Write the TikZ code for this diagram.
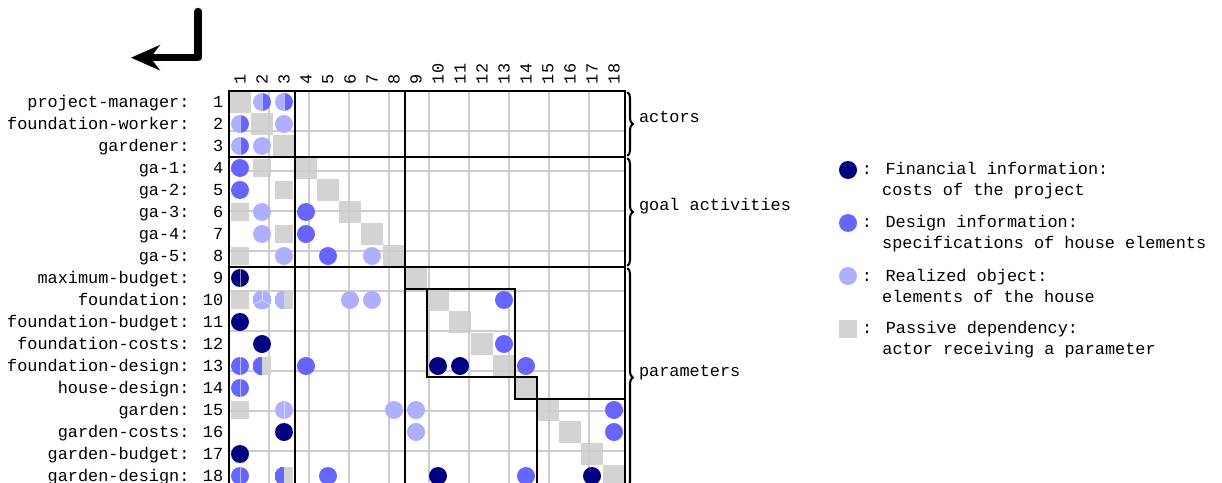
\documentclass[tikz,border=0pt]{standalone}
\usepackage{fontspec}
\setmainfont{Liberation Mono}
\usepackage{tikz}
\usetikzlibrary{positioning, arrows.meta, decorations.pathreplacing}

\definecolor{finblue}{HTML}{000080}
\definecolor{desblue}{HTML}{6666FF}
\definecolor{objblue}{HTML}{AFAFFF}
\definecolor{pasgray}{HTML}{D3D3D3}
\definecolor{gridgray}{HTML}{CDCDCD}

% split dot: left colour, right colour
\newcommand{\splitdot}[3]{%
  \fill[fill=#2] (#1) ++(0,2.25mm) arc[start angle=90, end angle=270, radius=2.25mm] -- cycle;
  \fill[fill=#3] (#1) ++(0,-2.25mm) arc[start angle=-90, end angle=90, radius=2.25mm] -- cycle;
  \draw[seam] (#1) ++(0,2.25mm) -- ++(0,-4.5mm);}
% half dot, half passive square
\newcommand{\halfpas}[2]{%
  \fill[fill=#2] (#1) ++(0,2.25mm) arc[start angle=90, end angle=270, radius=2.25mm] -- cycle;
  \fill[pasgray] (#1) ++(0,-2.3mm) rectangle ++(2.3mm,4.6mm);}

\begin{document}
\begin{tikzpicture}[
  x=0.55cm, y=0.55cm,
  font=\fontsize{12pt}{15pt}\selectfont,
  >=Stealth
]
\tikzstyle{gridline}=[gridgray, line width=1pt]
\tikzstyle{block}=[black, line width=1.2pt]
\tikzstyle{seam}=[white, line width=0.4pt, opacity=0.55]
\tikzstyle{dot}=[circle, minimum size=4.5mm, inner sep=0pt]
\tikzstyle{key}=[rectangle, minimum size=4.6mm, inner sep=0pt, fill=pasgray]
\tikzstyle{keytext}=[align=left, inner sep=0pt]
\tikzstyle{rowlabel}=[anchor=base east, inner sep=0pt]
\tikzstyle{collabel}=[rotate=90, anchor=west, inner sep=0pt]
\tikzstyle{brace}=[decorate, decoration={brace, amplitude=1.4mm}, line width=1.5pt]
\tikzstyle{bracelabel}=[midway, anchor=base west, xshift=2.7mm, yshift=0.3mm, inner sep=0pt]

\useasboundingbox (-10.409,4.136) rectangle (45.136,-17.818);

% ================= CELL CENTRES =================
\foreach \r in {1,...,18}
  \foreach \c in {1,...,18}
    \coordinate (M\r-\c) at (\c-0.5,-\r+0.5);

% ================= DIAGONAL =================
\foreach \i in {1,...,18}
  \fill[pasgray] (\i-1,-\i+1) rectangle (\i,-\i);

% ===== Passive dependencies =====
\foreach \r/\c in {4/2, 5/3, 6/1, 7/3, 8/1, 10/1, 15/1}
  \fill[pasgray] (M\r-\c) ++(-2.3mm,-2.3mm) rectangle ++(4.6mm,4.6mm);

% ================= GRID =================
\draw[gridline] (0,0) grid (18,-18);

% ===== Design information =====
\foreach \r/\c in {4/1, 5/1, 6/4, 7/4, 8/5, 10/13, 12/13, 13/4, 13/14, 15/18, 16/18, 18/5, 18/14}
  \fill[desblue] (M\r-\c) circle[radius=2.25mm];

% ===== Realized objects =====
\foreach \r/\c in {2/3, 3/2, 6/2, 7/2, 8/3, 8/7, 10/6, 10/7, 15/8, 15/9, 16/9}
  \fill[objblue] (M\r-\c) circle[radius=2.25mm];

% ===== Financial information =====
\foreach \r/\c in {11/1, 12/2, 13/10, 13/11, 16/3, 17/1, 18/10, 18/17}
  \fill[finblue] (M\r-\c) circle[radius=2.25mm];

% ===== Mixed cells =====
\foreach \r/\c/\a/\b in {1/2/objblue/desblue, 1/3/objblue/desblue, 2/1/objblue/desblue,
    3/1/objblue/desblue, 9/1/finblue/finblue, 13/1/desblue/desblue, 14/1/desblue/desblue,
    15/3/objblue/objblue, 18/1/desblue/desblue}
  \splitdot{M\r-\c}{\a}{\b}
\foreach \r/\c/\a in {10/3/objblue, 13/2/desblue, 18/3/desblue}
  \halfpas{M\r-\c}{\a}
\fill[objblue] (M10-2) circle[radius=2.25mm];
\foreach \a in {90,210,330}
  \draw[seam] (M10-2) -- ++(\a:2.25mm);

% ================= BLOCKS =================
\draw[block] (0,0) rectangle (18,-18);
\draw[block] (3,0) -- (3,-18) (8,0) -- (8,-18) (0,-3) -- (18,-3) (0,-8) -- (18,-8);
\draw[block] (8,-9) -- (9,-9) (9,-9) rectangle (13,-13) (13,-13) rectangle (14,-14) (14,-14) rectangle (18,-18);

% ================= LABELS =================
\foreach \j in {1,...,18}
  \node[collabel] (C\j) at (\j-0.5,0.3) {\j};

\foreach \name [count=\i] in {project-manager, foundation-worker, gardener, ga-1, ga-2, ga-3, ga-4, ga-5,
    maximum-budget, foundation, foundation-budget, foundation-costs, foundation-design,
    house-design, garden, garden-costs, garden-budget, garden-design}
  \node[rowlabel] (R\i) at (-0.25,-\i+0.5-0.27) {\name: \ifnum\i<10 \phantom{0}\fi\i};

% ===== Braces =====
\draw[brace] (18.1,-0.05) -- (18.1,-2.95) node[bracelabel] (B1) {actors};
\draw[brace] (18.1,-3.05) -- (18.1,-7.95) node[bracelabel] (B2) {goal activities};
\draw[brace] (18.1,-8.05) -- (18.1,-18) node[bracelabel] (B3) {parameters};

% ================= LEGEND =================
\node[dot, fill=finblue] (K1) at (28.136,-3.591) {};
\node[dot, fill=desblue] (K2) at (28.136,-6.0) {};
\node[dot, fill=objblue] (K3) at (28.136,-8.409) {};
\node[key] (K4) at (28.136,-10.818) {};
\node[keytext, right=1.1mm of K1, yshift=-2.6mm] (T1) {: Financial information:\\\phantom{:x}costs of the project};
\node[keytext, right=1.1mm of K2, yshift=-2.6mm] (T2) {: Design information:\\\phantom{:x}specifications of house elements};
\node[keytext, right=1.1mm of K3, yshift=-2.6mm] (T3) {: Realized object:\\\phantom{:x}elements of the house};
\node[keytext, right=1.1mm of K4, yshift=-2.6mm] (T4) {: Passive dependency:\\\phantom{:x}actor receiving a parameter};

% ===== Return arrow =====
\coordinate (Atop) at (-1.409,3.614);
\coordinate (Atip) at (-4.455,1.514);
\draw[line width=5.3pt, line cap=round, line join=round, -{Stealth[length=7.2mm, width=6.3mm]}] (Atop) |- (Atip);
\end{tikzpicture}
\end{document}
